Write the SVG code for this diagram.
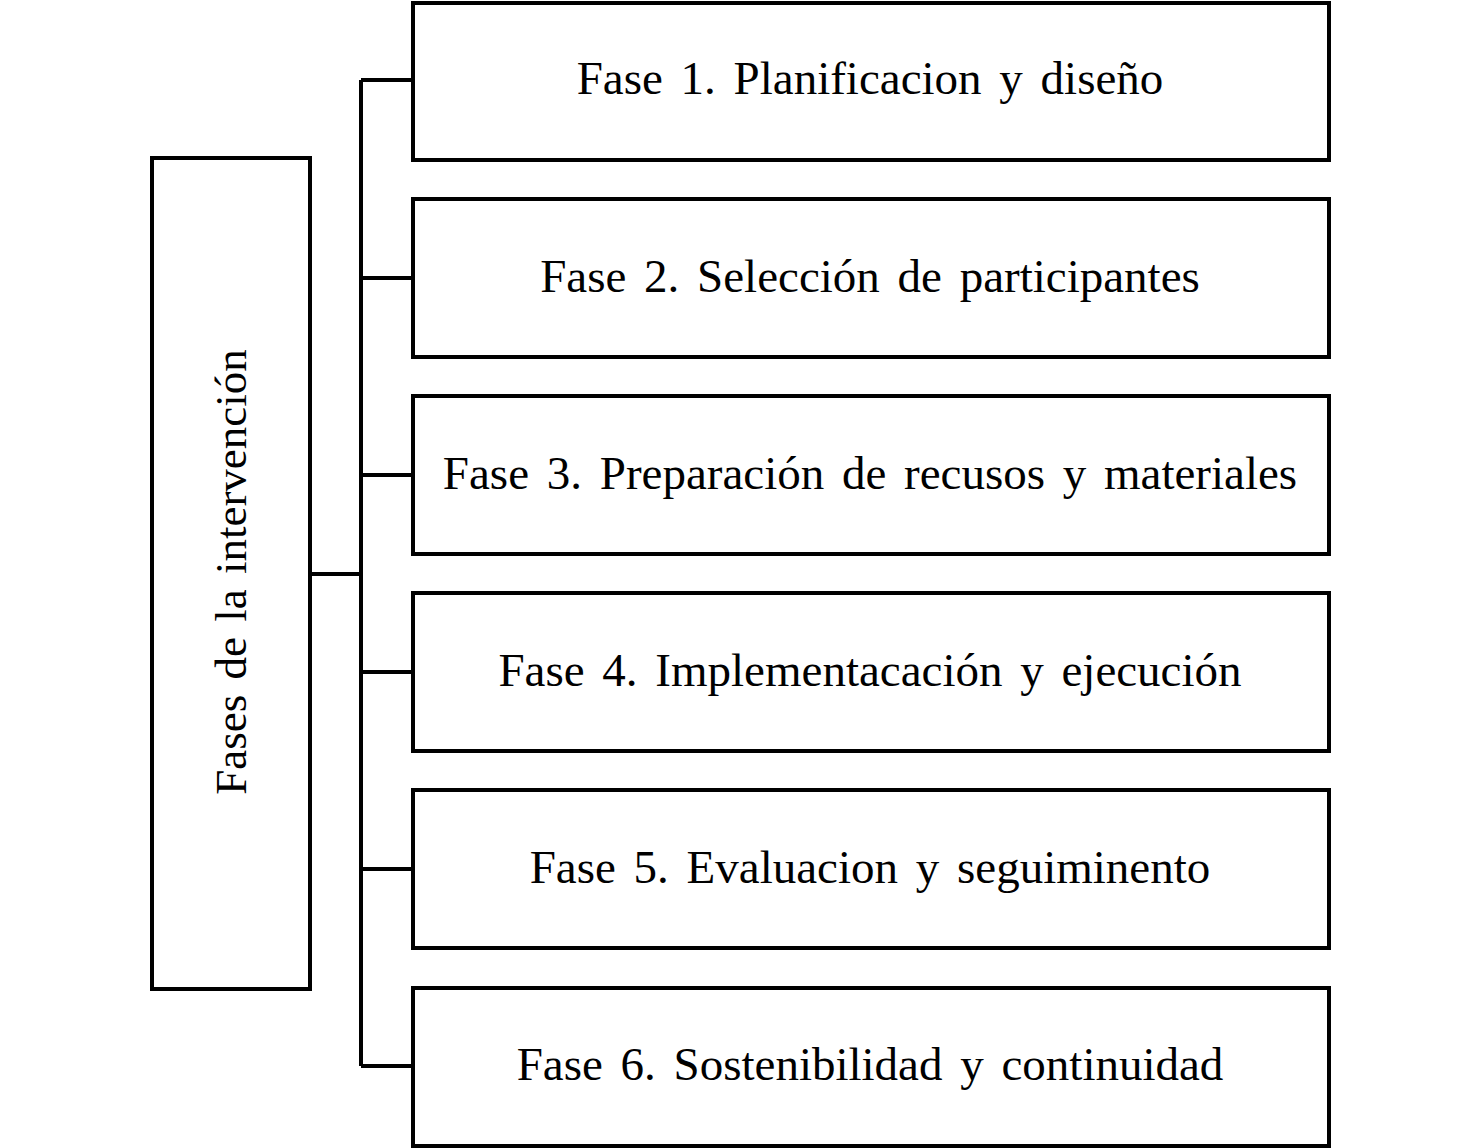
<svg xmlns="http://www.w3.org/2000/svg" width="1480" height="1148" viewBox="0 0 1480 1148">
<style>
.b{fill:#fff;stroke:#000;stroke-width:4}
.t{font-family:"Liberation Serif",serif;font-size:47px;word-spacing:6px;text-anchor:middle;dominant-baseline:central;fill:#000}
.v{font-size:45px;word-spacing:4px}
.c{fill:none;stroke:#000;stroke-width:4}
</style>
<rect width="1480" height="1148" fill="#fff"/>
<g id="connectors">
<path class="c" d="M310 574H361M361 80V1066M361 80H413M361 278H413M361 475H413M361 672H413M361 869H413M361 1066H413"/>
</g>
<g id="root"><rect class="b" x="152" y="158" width="158" height="831"/><text class="t v" transform="translate(231 572) rotate(-90)">Fases de la intervención</text></g>
<g id="f1"><rect class="b" x="413" y="3" width="916" height="157"/><text class="t" x="870" y="78">Fase 1. Planificacion y diseño</text></g>
<g id="f2"><rect class="b" x="413" y="199" width="916" height="158"/><text class="t" x="870" y="276">Fase 2. Selección de participantes</text></g>
<g id="f3"><rect class="b" x="413" y="396" width="916" height="158"/><text class="t" x="870" y="473">Fase 3. Preparación de recusos y materiales</text></g>
<g id="f4"><rect class="b" x="413" y="593" width="916" height="158"/><text class="t" x="870" y="670">Fase 4. Implementacación y ejecución</text></g>
<g id="f5"><rect class="b" x="413" y="790" width="916" height="158"/><text class="t" x="870" y="867">Fase 5. Evaluacion y seguiminento</text></g>
<g id="f6"><rect class="b" x="413" y="988" width="916" height="158"/><text class="t" x="870" y="1064">Fase 6. Sostenibilidad y continuidad</text></g>
</svg>
